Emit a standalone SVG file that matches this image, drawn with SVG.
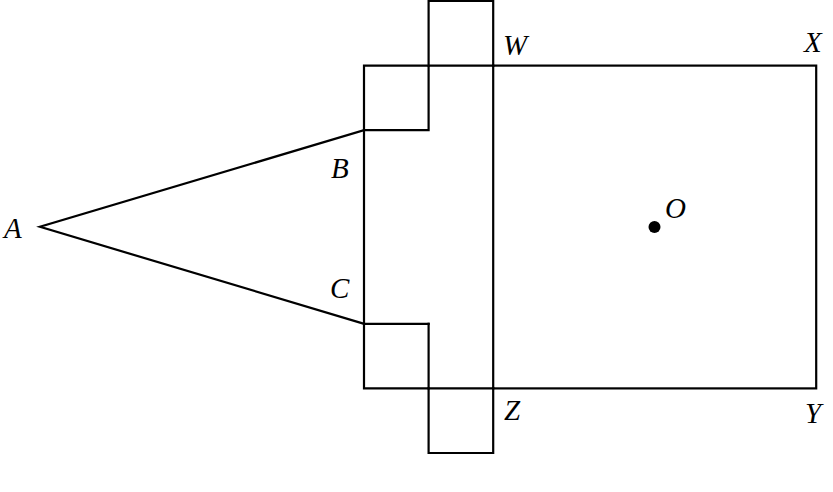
<svg xmlns="http://www.w3.org/2000/svg" width="833" height="492" viewBox="0 0 833 492">
<style>
.s{fill:none;stroke:#000;stroke-width:2.2;stroke-linejoin:miter;stroke-linecap:square}
.l{font-family:"Liberation Serif","DejaVu Serif",serif;font-style:italic;font-size:29px;fill:#000}
</style>
<rect width="833" height="492" fill="#fff"/>
<g id="square-WXYZ"><rect class="s" x="493.2" y="65.6" width="323" height="322.8"/></g>
<g id="top-square"><polyline class="s" points="428.6,65.6 428.6,1 493.2,1 493.2,65.6"/></g>
<g id="bottom-square"><polyline class="s" points="428.6,388.4 428.6,453 493.2,453 493.2,388.4"/></g>
<g id="left-square-top"><polyline class="s" points="493.2,65.6 364,65.6 364,130.2 428.6,130.2 428.6,65.6"/></g>
<g id="left-square-bottom"><polyline class="s" points="428.6,323.8 364,323.8 364,388.4 493.2,388.4"/><line class="s" x1="428.6" y1="323.8" x2="428.6" y2="388.4"/></g>
<g id="connectors">
<polyline class="s" points="364,130.2 40,226.8 364,323.8"/>
<line class="s" x1="364" y1="130.2" x2="364" y2="323.8"/>
</g>
<g id="point-O"><circle cx="654.5" cy="227" r="6" fill="#000"/><text class="l" x="665" y="218">O</text></g>
<g id="labels">
<text class="l" x="4" y="238">A</text>
<text class="l" x="331" y="178">B</text>
<text class="l" x="330" y="298">C</text>
<text class="l" x="503" y="55">W</text>
<text class="l" x="804" y="52">X</text>
<text class="l" x="805" y="423">Y</text>
<text class="l" x="504" y="420">Z</text>
</g>
</svg>
